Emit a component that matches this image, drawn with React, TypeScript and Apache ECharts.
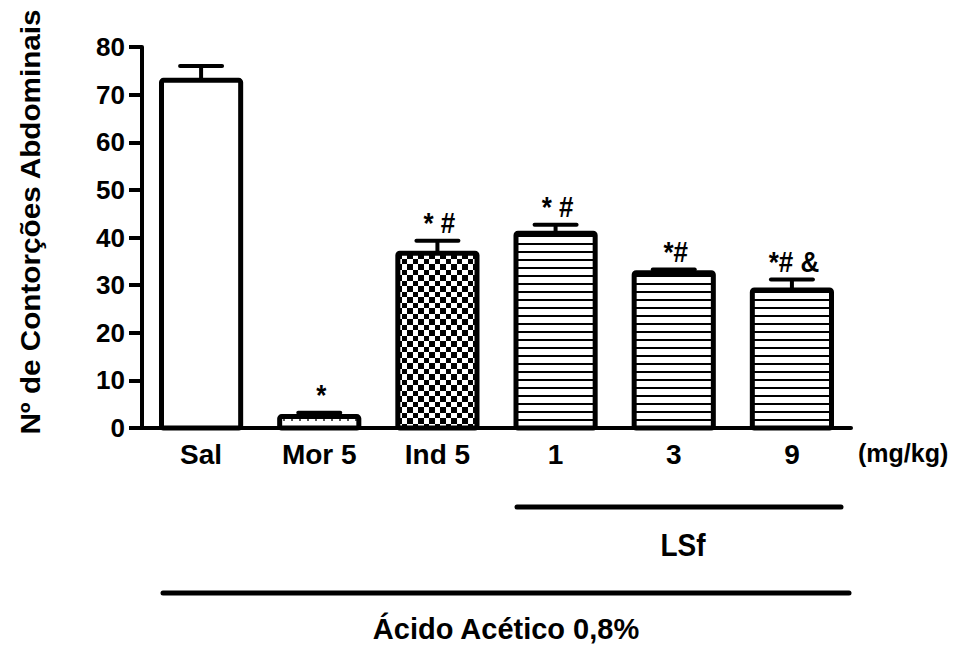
import React, { useEffect, useRef } from "react";
import * as echarts from "echarts";

// Groups on the x axis and their mean writhing counts
const categories = ["Sal", "Mor 5", "Ind 5", "1", "3", "9"];
const means = [73, 2.4, 36.7, 40.9, 32.6, 29];
// Upper end of each error bar (mean + SEM)
const errorTops = [76, 3.2, 39.3, 42.7, 33.3, 31.2];
// Significance marks above each bar
const marks = ["", "*", "* #", "* #", "*#", "*# &"];
// Y axis ticks
const yTicks = [0, 10, 20, 30, 40, 50, 60, 70, 80];

const FONT = "'Liberation Sans', Arial, Helvetica, sans-serif";
const BAR_RATIO = 0.67;

function makeCanvas(w: number, h: number, draw: (ctx: CanvasRenderingContext2D) => void) {
  const c = document.createElement("canvas");
  c.width = w;
  c.height = h;
  const ctx = c.getContext("2d")!;
  ctx.fillStyle = "#fff";
  ctx.fillRect(0, 0, w, h);
  draw(ctx);
  return c;
}

function buildPatterns() {
  const dotted = makeCanvas(8, 8, (ctx) => {
    ctx.fillStyle = "#555";
    ctx.fillRect(3, 3, 2, 2);
  });
  const checker = makeCanvas(11, 11, (ctx) => {
    ctx.fillStyle = "#000";
    ctx.fillRect(0, 0, 6, 6);
    ctx.fillRect(6, 6, 5, 5);
  });
  const stripes = makeCanvas(8, 8, (ctx) => {
    ctx.fillStyle = "#000";
    ctx.fillRect(0, 3, 8, 2);
  });
  const pat = (img: HTMLCanvasElement) => ({ image: img, repeat: "repeat" as const });
  return ["#ffffff", pat(dotted), pat(checker), pat(stripes), pat(stripes), pat(stripes)];
}

export default function App() {
  const ref = useRef<HTMLDivElement>(null);

  useEffect(() => {
    if (!ref.current) return;
    const chart = echarts.init(ref.current, undefined, { renderer: "svg" });
    const fills = buildPatterns();

    const option: any = {
      animation: false,
      backgroundColor: "#ffffff",
      grid: { left: 142, right: 109, top: 47, bottom: 218, containLabel: false },
      xAxis: {
        type: "category",
        data: categories,
        axisLine: { lineStyle: { color: "#000", width: 4 } },
        axisTick: { alignWithLabel: true, length: 13, lineStyle: { color: "#000", width: 4 } },
        axisLabel: {
          color: "#000",
          fontFamily: FONT,
          fontWeight: "bold",
          fontSize: 28,
          margin: 12,
        },
      },
      yAxis: {
        type: "value",
        min: yTicks[0],
        max: yTicks[yTicks.length - 1],
        interval: yTicks[1] - yTicks[0],
        splitLine: { show: false },
        axisLine: { show: true, lineStyle: { color: "#000", width: 4 } },
        axisTick: { show: true, length: 13, lineStyle: { color: "#000", width: 4 } },
        axisLabel: {
          color: "#000",
          fontFamily: FONT,
          fontWeight: "bold",
          fontSize: 26,
          margin: 17,
        },
      },
      series: [
        {
          // pattern fills only; the outline is stroked on the value line below
          type: "bar",
          barWidth: BAR_RATIO * 100 + "%",
          data: means.map((v, i) => ({
            value: v,
            itemStyle: { color: fills[i] },
          })),
          z: 2,
        },
        {
          // bar outlines, error bars and significance marks
          type: "custom",
          z: 3,
          data: categories.map((_, i) => [i, means[i], errorTops[i]]),
          renderItem: (params: any, api: any) => {
            const i = api.value(0);
            const zero = api.coord([i, 0]);
            const base = api.coord([i, api.value(1)]);
            const tip = api.coord([i, api.value(2)]);
            const w = api.size([1, 0])[0] * BAR_RATIO;
            const half = 21;
            return {
              type: "group",
              children: [
                {
                  type: "rect",
                  shape: { x: zero[0] - w / 2, y: base[1], width: w, height: zero[1] - base[1], r: 2 },
                  style: { fill: "none", stroke: "#000", lineWidth: 5 },
                },
                {
                  type: "line",
                  shape: { x1: base[0], y1: base[1], x2: tip[0], y2: tip[1] },
                  style: { stroke: "#000", lineWidth: 4 },
                },
                {
                  type: "line",
                  shape: { x1: tip[0] - half, y1: tip[1], x2: tip[0] + half, y2: tip[1] },
                  style: { stroke: "#000", lineWidth: 4, lineCap: "round" },
                },
                {
                  type: "text",
                  x: tip[0] + 2,
                  y: tip[1] - 3,
                  scaleY: 1.1,
                  style: {
                    text: marks[i],
                    fill: "#000",
                    fontFamily: FONT,
                    fontWeight: "bold",
                    fontSize: 26,
                    align: "center",
                    verticalAlign: "bottom",
                  },
                },
              ],
            };
          },
        },
      ],
      graphic: [
        {
          type: "text",
          x: 30,
          y: 222,
          rotation: Math.PI / 2,
          style: {
            text: "Nº de Contorções Abdominais",
            fill: "#000",
            fontFamily: FONT,
            fontWeight: "bold",
            fontSize: 28,
            align: "center",
            verticalAlign: "middle",
          },
          scaleX: 1.06,
        },
        {
          type: "text",
          x: 858,
          y: 453,
          style: {
            text: "(mg/kg)",
            fill: "#000",
            fontFamily: FONT,
            fontWeight: "bold",
            fontSize: 25,
            align: "left",
            verticalAlign: "middle",
          },
        },
        {
          type: "line",
          shape: { x1: 517, y1: 507, x2: 841, y2: 507 },
          style: { stroke: "#000", lineWidth: 5, lineCap: "round" },
        },
        {
          type: "text",
          x: 683,
          y: 545,
          scaleY: 1.12,
          style: {
            text: "LSf",
            fill: "#000",
            fontFamily: FONT,
            fontWeight: "bold",
            fontSize: 28,
            align: "center",
            verticalAlign: "middle",
          },
        },
        {
          type: "line",
          shape: { x1: 163, y1: 593, x2: 849, y2: 593 },
          style: { stroke: "#000", lineWidth: 5, lineCap: "round" },
        },
        {
          type: "text",
          x: 506,
          y: 628,
          scaleY: 1.04,
          style: {
            text: "Ácido Acético 0,8%",
            fill: "#000",
            fontFamily: FONT,
            fontWeight: "bold",
            fontSize: 29,
            align: "center",
            verticalAlign: "middle",
          },
        },
      ],
    };

    chart.setOption(option);
    return () => chart.dispose();
  }, []);

  return (
    <div
      ref={ref}
      style={{ position: "fixed", left: 0, top: 0, width: 960, height: 646 }}
    />
  );
}
